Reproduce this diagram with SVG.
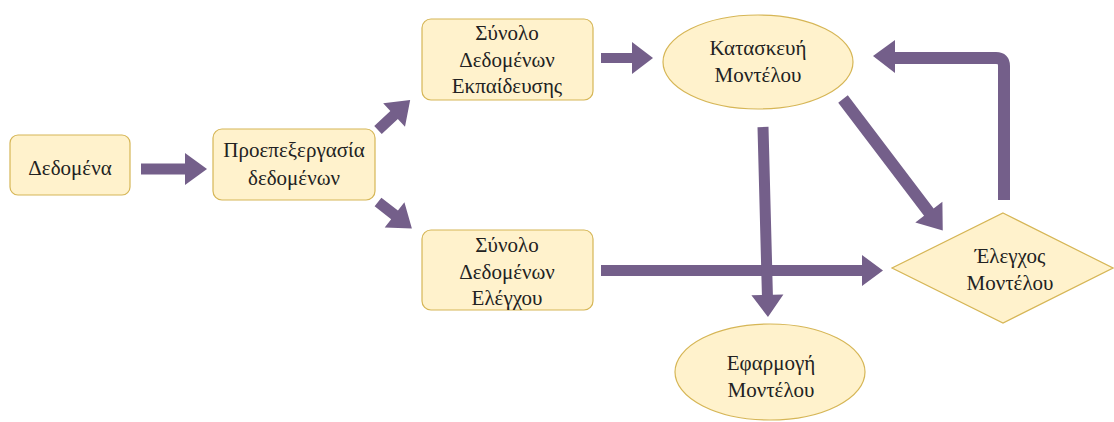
<svg xmlns="http://www.w3.org/2000/svg" width="1114" height="422" viewBox="0 0 1114 422">
  <style>
    .box { fill: #FFF2CC; stroke: #D6B656; stroke-width: 1.2; }
    .arrow { fill: #745F8A; }
    .shaft { fill: none; stroke: #745F8A; stroke-width: 12; }
  </style>
  <rect width="1114" height="422" fill="#FFFFFF"/>

  <g id="connectors">
    <!-- Δεδομένα → Προεπεξεργασία -->
    <polygon class="arrow" points="141,163.5 185,163.5 185,153 207,169 185,185 185,174.5 141,174.5"/>
    <!-- Προεπεξεργασία → Σύνολο Εκπαίδευσης -->
    <g transform="translate(378,130) rotate(-43)">
      <polygon class="arrow" points="0,-5.5 22,-5.5 22,-16 44,0 22,16 22,5.5 0,5.5"/>
    </g>
    <!-- Προεπεξεργασία → Σύνολο Ελέγχου -->
    <g transform="translate(378,202) rotate(38)">
      <polygon class="arrow" points="0,-5.5 21,-5.5 21,-16 43,0 21,16 21,5.5 0,5.5"/>
    </g>
    <!-- Σύνολο Εκπαίδευσης → Κατασκευή -->
    <polygon class="arrow" points="601,53 632,53 632,42 653,58 632,74 632,63 601,63"/>
    <!-- Σύνολο Ελέγχου → Έλεγχος -->
    <polygon class="arrow" points="601,265 862,265 862,255 883,270.5 862,286 862,276 601,276"/>
    <!-- Κατασκευή → Εφαρμογή -->
    <g transform="translate(763,127) rotate(88.5)">
      <polygon class="arrow" points="0,-5.5 168,-5.5 168,-16 190,0 168,16 168,5.5 0,5.5"/>
    </g>
    <!-- Κατασκευή → Έλεγχος -->
    <g transform="translate(843,99) rotate(52.8)">
      <polygon class="arrow" points="0,-6 142,-6 142,-17 165,0 142,17 142,6 0,6"/>
    </g>
    <!-- Έλεγχος → Κατασκευή (feedback loop) -->
    <path class="shaft" d="M1004,200 V66 Q1004,58 996,58 H892"/>
    <polygon class="arrow" points="895,40 873,56 895,73"/>
  </g>

  <g font-family="Liberation Serif" font-size="21" fill="#222222" text-anchor="middle">
    <g id="n-data">
      <rect class="box" x="10" y="135" width="120" height="60" rx="8"/>
      <text x="70" y="175">Δεδομένα</text>
    </g>

    <g id="n-preprocess">
      <rect class="box" x="213" y="129" width="162" height="71" rx="9"/>
      <text x="294" y="157">Προεπεξεργασία</text>
      <text x="294" y="185">δεδομένων</text>
    </g>

    <g id="n-train">
      <rect class="box" x="422" y="19" width="171" height="81" rx="9"/>
      <text x="507" y="40">Σύνολο</text>
      <text x="507" y="67">Δεδομένων</text>
      <text x="507" y="93">Εκπαίδευσης</text>
    </g>

    <g id="n-test">
      <rect class="box" x="422" y="230" width="171" height="80" rx="9"/>
      <text x="507" y="252">Σύνολο</text>
      <text x="507" y="279">Δεδομένων</text>
      <text x="507" y="305">Ελέγχου</text>
    </g>

    <g id="n-build">
      <ellipse class="box" cx="758" cy="62" rx="95" ry="47"/>
      <text x="758" y="55">Κατασκευή</text>
      <text x="758" y="82">Μοντέλου</text>
    </g>

    <g id="n-evaluate">
      <polygon class="box" points="1003,213 1113,268 1003,323 892,268"/>
      <text x="1010" y="263">Έλεγχος</text>
      <text x="1010" y="290">Μοντέλου</text>
    </g>

    <g id="n-deploy">
      <ellipse class="box" cx="770" cy="372" rx="95" ry="48"/>
      <text x="771" y="370">Εφαρμογή</text>
      <text x="771" y="397">Μοντέλου</text>
    </g>
  </g>
</svg>
